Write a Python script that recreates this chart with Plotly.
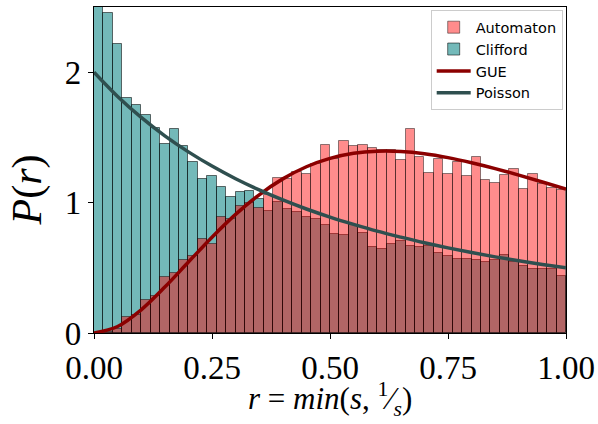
import numpy as np
import plotly.graph_objects as go

# ---- data ----
bin_edges_start = 0.0
bin_width = 0.02
n_bins = 50

automaton = [0.00, 0.01, 0.03, 0.12, 0.14, 0.256, 0.285, 0.426, 0.463, 0.558,
             0.592, 0.718, 0.686, 0.890, 0.878, 0.973, 1.000, 0.962, 1.056, 1.190,
             1.178, 1.236, 1.222, 1.295, 1.440, 1.338, 1.474, 1.433, 1.438, 1.420,
             1.402, 1.407, 1.325, 1.561, 1.346, 1.225, 1.338, 1.218, 1.312, 1.204,
             1.346, 1.177, 1.154, 1.208, 1.254, 1.106, 1.223, 1.144, 1.110, 1.099]

clifford = [2.60, 2.456, 2.213, 1.799, 1.748, 1.673, 1.573, 1.446, 1.561, 1.431,
            1.312, 1.183, 1.207, 1.120, 1.042, 1.084, 1.091, 1.024, 0.934, 1.001,
            0.952, 0.927, 0.886, 0.878, 0.832, 0.763, 0.755, 0.827, 0.770, 0.660,
            0.648, 0.686, 0.704, 0.668, 0.660, 0.670, 0.614, 0.591, 0.571, 0.571,
            0.558, 0.541, 0.558, 0.601, 0.542, 0.514, 0.489, 0.489, 0.494, 0.437]

curve_r = [0.0, 0.05, 0.10, 0.15, 0.20, 0.25, 0.30, 0.35, 0.40, 0.45, 0.50,
           0.55, 0.60, 0.65, 0.70, 0.75, 0.80, 0.85, 0.90, 0.95, 1.00]
gue = [0.0, 0.05, 0.178, 0.352, 0.544, 0.735, 0.910, 1.060, 1.182, 1.275, 1.339,
       1.378, 1.394, 1.392, 1.375, 1.345, 1.306, 1.261, 1.211, 1.158, 1.103]
poisson = [2.000, 1.814, 1.653, 1.512, 1.389, 1.280, 1.183, 1.097, 1.020, 0.951,
           0.889, 0.833, 0.781, 0.735, 0.692, 0.653, 0.617, 0.584, 0.554, 0.526, 0.500]

x_ticks = [0.0, 0.25, 0.5, 0.75, 1.0]
x_tick_labels = ["0.00", "0.25", "0.50", "0.75", "1.00"]
y_ticks = [0, 1, 2]
y_tick_labels = ["0", "1", "2"]

x_title = "<i>r</i> = <i>min</i>(<i>s</i>, <sup>1</sup>&#8260;<sub><i>s</i></sub>)"
y_title = "<i>P</i>(<i>r</i>)"

centers = bin_edges_start + bin_width * (np.arange(n_bins) + 0.5)

fig = go.Figure()
fig.add_trace(go.Bar(x=centers, y=clifford, width=bin_width, name="Clifford",
                     marker=dict(color="rgba(0,128,128,0.55)",
                                 line=dict(color="rgba(0,0,0,0.55)", width=1)),
                     legendrank=2))
fig.add_trace(go.Bar(x=centers, y=automaton, width=bin_width, name="Automaton",
                     marker=dict(color="rgba(255,0,0,0.45)",
                                 line=dict(color="rgba(0,0,0,0.45)", width=1)),
                     legendrank=1))
fig.add_trace(go.Scatter(x=curve_r, y=gue, mode="lines", name="GUE",
                         line=dict(color="#8b0000", width=3.5, shape="spline"),
                         legendrank=3))
fig.add_trace(go.Scatter(x=curve_r, y=poisson, mode="lines", name="Poisson",
                         line=dict(color="#2f4f4f", width=3.5, shape="spline"),
                         legendrank=4))

serif = "Liberation Serif, DejaVu Serif, serif"
tick_font = dict(family=serif, size=33, color="black")
fig.update_layout(
    width=598, height=424,
    margin=dict(l=94, r=32, t=7, b=91),
    paper_bgcolor="white", plot_bgcolor="white",
    barmode="overlay", bargap=0,
    showlegend=True,
    legend=dict(x=0.993, y=0.99, xanchor="right", yanchor="top",
                bgcolor="rgba(255,255,255,0.8)", bordercolor="#cccccc", borderwidth=1,
                font=dict(family="DejaVu Sans, sans-serif", size=14.5, color="black"),
                itemwidth=34),
    xaxis=dict(range=[0, 1], tickvals=x_ticks, ticktext=x_tick_labels,
               showgrid=False, zeroline=False, showline=True, mirror=True,
               linecolor="black", linewidth=1.2, ticks="outside", ticklen=5,
               tickcolor="black", tickfont=tick_font, automargin=False),
    yaxis=dict(range=[0, 2.5], tickvals=y_ticks, ticktext=y_tick_labels,
               showgrid=False, zeroline=False, showline=True, mirror=True,
               linecolor="black", linewidth=1.2, ticks="outside", ticklen=5,
               tickcolor="black", tickfont=tick_font, automargin=False),
    annotations=[
        dict(text=x_title, xref="paper", yref="paper", x=0.5, y=-0.128,
             xanchor="center", yanchor="top", showarrow=False,
             font=dict(family=serif, size=31, color="black")),
        dict(text=y_title, xref="paper", yref="paper", x=-0.14, y=0.44,
             xanchor="center", yanchor="middle", showarrow=False, textangle=-90,
             font=dict(family=serif, size=42, color="black")),
    ],
)

fig.write_html("out.html", config={"displayModeBar": False},
               post_script="document.body.style.margin='0';document.body.style.overflow='hidden';")
